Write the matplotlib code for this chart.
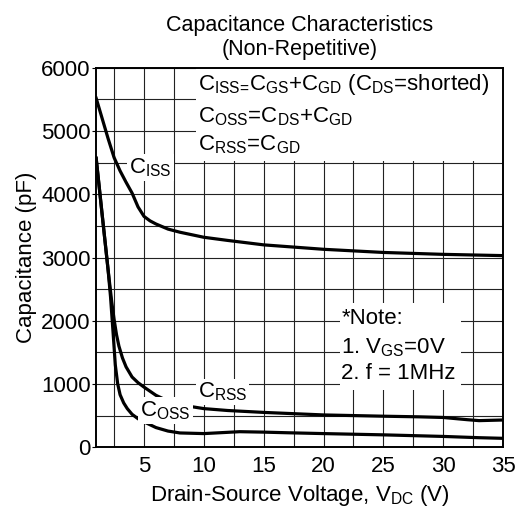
import numpy as np
import matplotlib.pyplot as plt
from matplotlib.patches import Rectangle

plt.rcParams["font.family"] = ["Liberation Sans", "DejaVu Sans"]
plt.rcParams["mathtext.fontset"] = "custom"
plt.rcParams["mathtext.rm"] = "Liberation Sans"

# (V, pF)
v_iss = [1, 1.5, 2, 2.5, 3, 3.5, 4, 4.5, 5, 5.5, 6, 7, 8, 10, 12, 15, 20, 25, 30, 35]
c_iss = [5520, 5200, 4880, 4580, 4370, 4190, 4020, 3800, 3650, 3580, 3530, 3450, 3400,
         3320, 3270, 3200, 3130, 3080, 3050, 3030]

v_rss = [1, 1.5, 2, 2.3, 2.5, 2.7, 2.9, 3.2, 3.5, 4, 4.5, 5, 6, 7, 8, 10, 12, 15, 20, 25, 28,
         30, 32, 33, 35]
c_rss = [4570, 3680, 2800, 2300, 2020, 1780, 1600, 1410, 1270, 1110, 1020, 950, 820, 730,
         670, 610, 580, 550, 510, 490, 480, 470, 435, 420, 430]

v_oss = [1, 1.5, 2, 2.2, 2.4, 2.6, 2.8, 3, 3.3, 3.6, 4, 4.5, 5, 6, 7, 8, 10, 12, 13, 15, 17,
         20, 25, 30, 33, 35]
c_oss = [4570, 3680, 2800, 2380, 1850, 1300, 1000, 830, 700, 610, 520, 450, 400, 310, 255,
         225, 215, 235, 245, 238, 228, 215, 195, 170, 150, 140]

x_ticks = [5, 10, 15, 20, 25, 30, 35]
y_ticks = [0, 1000, 2000, 3000, 4000, 5000, 6000]

fig = plt.figure(figsize=(5.17, 5.14), dpi=100)
ax = fig.add_axes([0.186, 0.130, 0.787, 0.738])

for v, c in [(v_iss, c_iss), (v_rss, c_rss), (v_oss, c_oss)]:
    ax.plot(v, c, color="black", lw=2.3, solid_joinstyle="round", zorder=2)

ax.set_xlim(1, 35)
ax.set_ylim(0, 6000)
ax.set_xticks(x_ticks)
ax.set_yticks(y_ticks)
ax.set_xticks(np.arange(2.5, 35, 2.5), minor=True)
ax.set_yticks(np.arange(500, 6000, 500), minor=True)
ax.set_axisbelow(True)
ax.grid(True, which="both", color="#222222", lw=0.8)
ax.tick_params(which="both", labelsize=16, length=0, pad=3)
ax.tick_params(axis="y", which="major", length=3, pad=1)
ax.tick_params(axis="x", pad=6)
for s in ax.spines.values():
    s.set_linewidth(1.4)

ax.set_xlabel(r"Drain-Source Voltage, V$_{\mathregular{DC}}$ (V)", fontsize=16, labelpad=5)
ax.set_ylabel("Capacitance (pF)", fontsize=16, labelpad=3)
ax.set_title("Capacitance Characteristics\n(Non-Repetitive)", fontsize=15.5,
             linespacing=1.2, pad=9)

# white panel behind the definitions
ax.add_patch(Rectangle((9.35, 4530), 25.65, 1470, facecolor="white", edgecolor="none",
                       zorder=1.8))
defs = [
    r"C$_{\mathregular{ISS}\text{=}}$C$_{\mathregular{GS}}$+C$_{\mathregular{GD}}$ (C$_{\mathregular{DS}}$=shorted)",
    r"C$_{\mathregular{OSS}}$=C$_{\mathregular{DS}}$+C$_{\mathregular{GD}}$",
    r"C$_{\mathregular{RSS}}$=C$_{\mathregular{GD}}$",
]
for txt, yy in zip(defs, [5730, 5220, 4780]):
    ax.text(9.5, yy, txt, fontsize=16, va="center", ha="left", zorder=3)

white = dict(facecolor="white", edgecolor="none", pad=1.5)
ax.text(3.75, 4420, r"C$_{\mathregular{ISS}}$", fontsize=16, va="center", zorder=3, bbox=white)
ax.text(9.5, 870, r"C$_{\mathregular{RSS}}$", fontsize=16, va="center", zorder=3, bbox=white)
ax.text(4.7, 580, r"C$_{\mathregular{OSS}}$", fontsize=16, va="center", zorder=3, bbox=white)

ax.add_patch(Rectangle((21.4, 900), 10.1, 1380, facecolor="white", edgecolor="none",
                       zorder=1.8))
for txt, yy in zip(["*Note:", r"1. V$_{\mathregular{GS}}$=0V", "2. f = 1MHz"],
                   [2040, 1580, 1170]):
    ax.text(21.5, yy, txt, fontsize=16, va="center", ha="left", zorder=3)

fig.savefig("out.png", dpi=100)
